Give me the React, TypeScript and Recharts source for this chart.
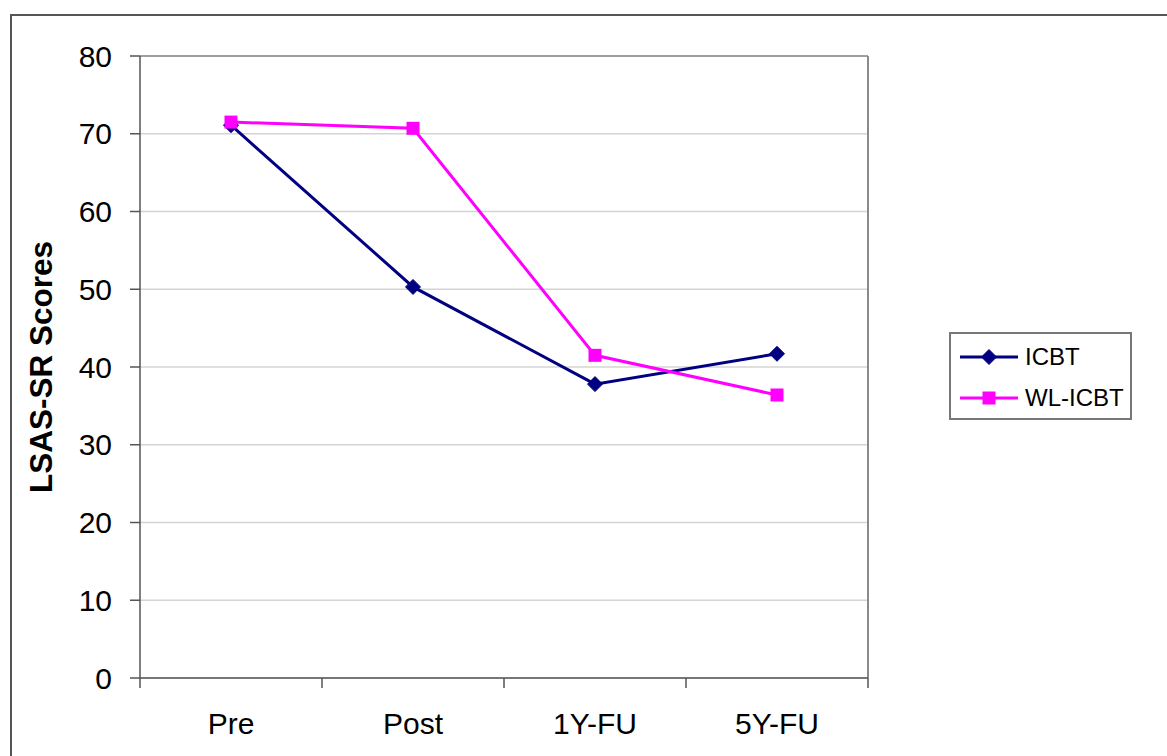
import { LineChart, Line, XAxis, YAxis, CartesianGrid, Legend, Label, ReferenceLine } from 'recharts'

const categories = ['Pre', 'Post', '1Y-FU', '5Y-FU']
const icbt = [71.1, 50.3, 37.8, 41.7]
const wlIcbt = [71.5, 70.7, 41.5, 36.4]
const yTicks = [0, 10, 20, 30, 40, 50, 60, 70, 80]

const data = categories.map((stage, i) => ({ stage, ICBT: icbt[i], 'WL-ICBT': wlIcbt[i] }))

const NAVY = '#000080'
const MAGENTA = '#FF00FF'
const FONT = '"Liberation Sans", Arial, sans-serif'

function Diamond({ cx, cy, color }: { cx?: number; cy?: number; color: string }) {
  if (cx == null || cy == null) return null
  const r = 7.5
  return <polygon points={`${cx},${cy - r} ${cx + r},${cy} ${cx},${cy + r} ${cx - r},${cy}`} fill={color} stroke={color} />
}

function Square({ cx, cy, color }: { cx?: number; cy?: number; color: string }) {
  if (cx == null || cy == null) return null
  return <rect x={cx - 6.5} y={cy - 6.5} width={13} height={13} fill={color} />
}

// category label centred in its band, tick marks on the band edges (Excel style)
function CategoryTick(props: any) {
  const { x, y, payload, width, index } = props
  const half = payload.offset ?? width / (2 * categories.length)
  const last = index === categories.length - 1
  return (
    <g>
      <line x1={x - half} y1={y} x2={x - half} y2={y + 10} stroke="#555" strokeWidth={1.5} />
      {last && <line x1={x + half} y1={y} x2={x + half} y2={y + 10} stroke="#555" strokeWidth={1.5} />}
      <text x={x} y={y + 35} dy="0.71em" textAnchor="middle" fontFamily={FONT} fontSize={30} fill="#000">
        {payload.value}
      </text>
    </g>
  )
}

function LegendBox({ payload }: { payload?: { value: string; color: string }[] }) {
  if (!payload) return null
  return (
    <div
      style={{
        width: 179,
        height: 82,
        border: '2px solid #777',
        boxSizing: 'content-box',
        fontFamily: FONT,
        fontSize: 24,
        color: '#000',
        paddingTop: 2,
      }}
    >
      {payload.map((entry) => (
        <div key={entry.value} style={{ display: 'flex', alignItems: 'center', height: 41 }}>
          <svg width={74} height={20}>
            <line x1={9} y1={10} x2={67} y2={10} stroke={entry.color} strokeWidth={3} />
            {entry.value === 'ICBT' ? (
              <Diamond cx={38} cy={10} color={entry.color} />
            ) : (
              <Square cx={38} cy={10} color={entry.color} />
            )}
          </svg>
          <span>{entry.value}</span>
        </div>
      ))}
    </div>
  )
}

export default function App() {
  return (
    <div style={{ position: 'fixed', left: 0, top: 0, width: 1167, height: 756, overflow: 'hidden', background: '#fff' }}>
      <div
        style={{
          position: 'absolute',
          left: 10,
          top: 14,
          width: 1300,
          height: 900,
          border: '2px solid #555',
          pointerEvents: 'none',
        }}
      />
      <LineChart width={1167} height={756} data={data} margin={{ top: 56, right: 299, bottom: 0, left: 0 }}>
        <CartesianGrid horizontal vertical={false} stroke="#d4d4d4" strokeWidth={1.5} />
        <XAxis
          dataKey="stage"
          scale="band"
          height={78}
          axisLine={{ stroke: '#555', strokeWidth: 1.5 }}
          tickLine={false}
          tickSize={0}
          tickMargin={0}
          tick={<CategoryTick />}
        />
        <YAxis
          domain={[0, 80]}
          ticks={yTicks}
          width={140}
          tickSize={10}
          tickMargin={18}
          axisLine={{ stroke: '#555', strokeWidth: 1.5 }}
          tickLine={{ stroke: '#555', strokeWidth: 1.5 }}
          tick={{ fontSize: 30, fill: '#000', fontFamily: FONT }}
        >
          <Label
            content={({ viewBox }: any) => {
              const cx = viewBox.x + 41
              const cy = viewBox.y + viewBox.height / 2
              return (
                <text
                  x={cx}
                  y={cy}
                  transform={`rotate(-90, ${cx}, ${cy})`}
                  textAnchor="middle"
                  dominantBaseline="central"
                  fontFamily={FONT}
                  fontWeight="bold"
                  fontSize={31.5}
                  fill="#000"
                >
                  LSAS-SR Scores
                </text>
              )
            }}
          />
        </YAxis>
        <ReferenceLine y={80} stroke="#8a8a8a" strokeWidth={1.5} />
        <ReferenceLine x="5Y-FU" position="end" stroke="#8a8a8a" strokeWidth={2} />
        <Legend
          layout="vertical"
          align="center"
          verticalAlign="middle"
          wrapperStyle={{ left: 949, top: 332, width: 185, height: 88 }}
          content={(props: any) => <LegendBox payload={props.payload} />}
        />
        <Line
          dataKey="ICBT"
          stroke={NAVY}
          strokeWidth={3}
          dot={(p: any) => <Diamond key={p.index} cx={p.cx} cy={p.cy} color={NAVY} />}
          activeDot={false}
          isAnimationActive={false}
        />
        <Line
          dataKey="WL-ICBT"
          stroke={MAGENTA}
          strokeWidth={3}
          dot={(p: any) => <Square key={p.index} cx={p.cx} cy={p.cy} color={MAGENTA} />}
          activeDot={false}
          isAnimationActive={false}
        />
      </LineChart>
    </div>
  )
}
